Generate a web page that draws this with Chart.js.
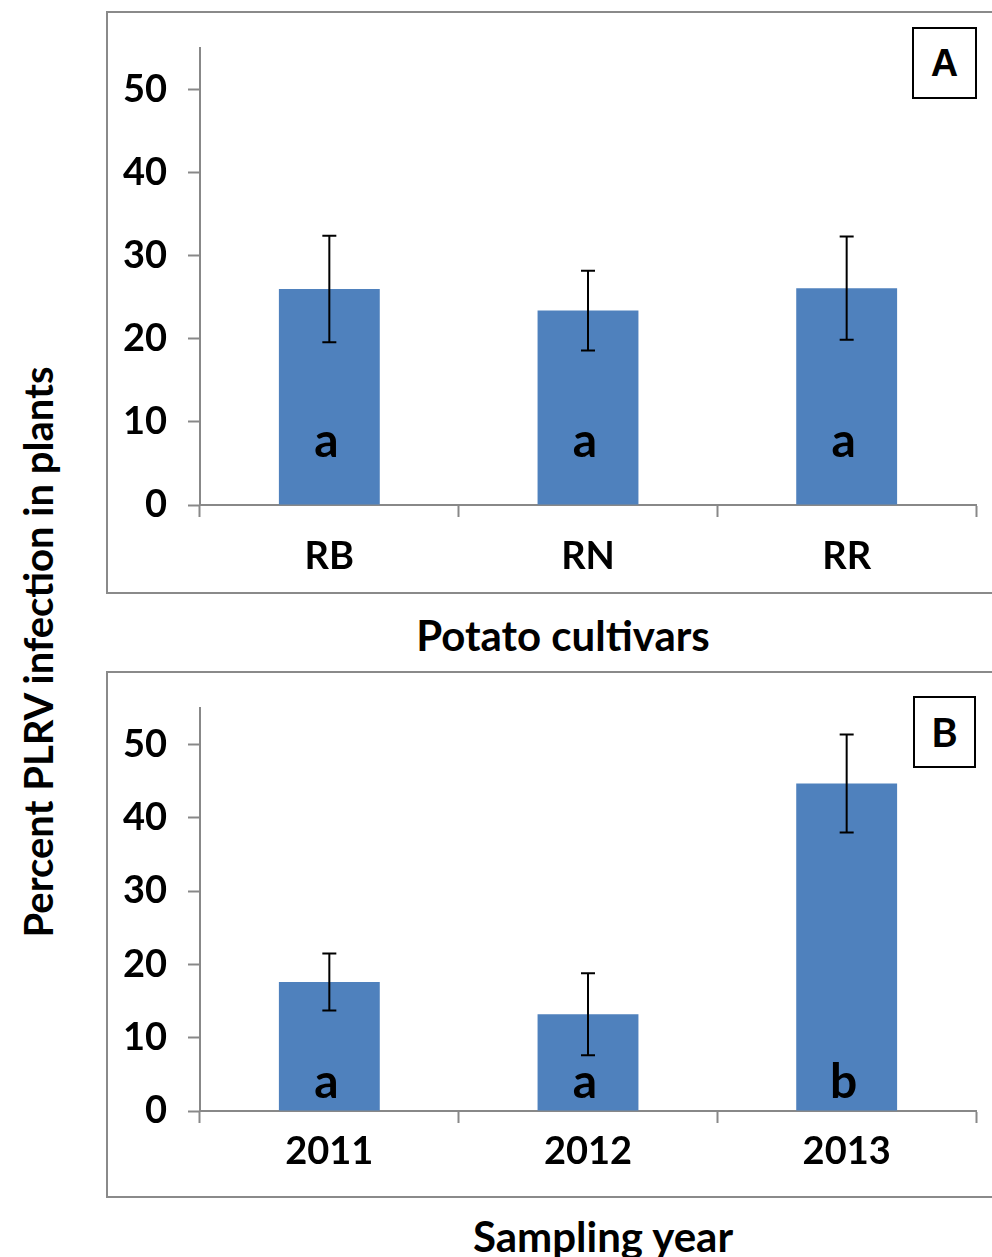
<!DOCTYPE html>
<html>
<head>
<meta charset="utf-8">
<script src="https://cdn.jsdelivr.net/npm/chart.js@4.4.1/dist/chart.umd.min.js"></script>
<style>
    body { margin: 0; background: #fff; width: 992px; height: 1257px; position: relative; overflow: hidden; font-family: Lato, sans-serif; font-weight: bold; color: #000; }
    .box { position: absolute; border: 2px solid #8a8a8a; box-sizing: border-box; }
    .wrap { position: absolute; }
    .tag { position: absolute; border: 2px solid #000; background: #fff; box-sizing: border-box; display: flex; align-items: center; justify-content: center; }
    .txt { position: absolute; white-space: nowrap; transform: translate(-50%, -50%); }
</style>
</head>
<body>
<div class="box" style="left:106px; top:11px; width:900px; height:583px;"></div>
<div class="box" style="left:106px; top:671px; width:900px; height:527px;"></div>

<div class="wrap" style="left:106px; top:11px;"><canvas id="graficoA" width="886" height="582"></canvas></div>
<div class="wrap" style="left:106px; top:671px;"><canvas id="graficoB" width="886" height="526"></canvas></div>

<div class="tag" style="left:912px; top:27px; width:65px; height:72px; font-family:'Liberation Sans', Arial, sans-serif; font-size:38px;">A</div>
<div class="tag" style="left:913px; top:696px; width:63px; height:72px; font-size:40px;">B</div>

<div class="txt" style="left:38px; top:652px; font-size:40px; transform: translate(-50%, -50%) rotate(-90deg);">Percent PLRV infection in plants</div>
<div class="txt" style="left:563px; top:635px; font-size:42px;">Potato cultivars</div>
<div class="txt" style="left:603px; top:1236px; font-size:42px;">Sampling year</div>

<script>
// datos del panel A (cultivares)
const cultivares = ['RB', 'RN', 'RR'];
const infeccionA = [26.0, 23.4, 26.1];
const errorA = [6.4, 4.8, 6.2];
const letrasA = ['a', 'a', 'a'];

// datos del panel B (años)
const anios = ['2011', '2012', '2013'];
const infeccionB = [17.6, 13.2, 44.7];
const errorB = [3.9, 5.6, 6.7];
const letrasB = ['a', 'a', 'b'];

const ejeY = [0, 10, 20, 30, 40, 50];
const maxY = 55;

const gris = '#888888';
const azul = '#4F81BD';

// barras de error y letras dentro de las barras
const barrasError = {
    id: 'barrasError',
    afterDatasetsDraw(chart, args, opts) {
        const ctx = chart.ctx;
        const y = chart.scales.y;
        const meta = chart.getDatasetMeta(0);
        const valores = chart.data.datasets[0].data;
        ctx.save();
        meta.data.forEach((bar, i) => {
            const arriba = y.getPixelForValue(valores[i] + opts.err[i]);
            const abajo = y.getPixelForValue(valores[i] - opts.err[i]);
            ctx.strokeStyle = '#000';
            ctx.lineWidth = 2;
            ctx.beginPath();
            ctx.moveTo(bar.x, arriba); ctx.lineTo(bar.x, abajo);
            ctx.moveTo(bar.x - 7, arriba); ctx.lineTo(bar.x + 7, arriba);
            ctx.moveTo(bar.x - 7, abajo); ctx.lineTo(bar.x + 7, abajo);
            ctx.stroke();
            ctx.fillStyle = '#000';
            ctx.font = 'bold 48px Lato';
            ctx.textAlign = 'center';
            ctx.textBaseline = 'alphabetic';
            ctx.fillText(opts.letras[i], bar.x - 3, y.getPixelForValue(0) - opts.subir);
        });
        ctx.restore();
    }
};

function generarGrafico(id, etiquetas, datos, errores, letras, altoX, padX, subir) {
    const ctx = document.getElementById(id).getContext('2d');
    return new Chart(ctx, {
        type: 'bar',
        data: {
            labels: etiquetas,
            datasets: [{
                data: datos,
                backgroundColor: azul,
                borderWidth: 0,
                categoryPercentage: 0.39,
                barPercentage: 1
            }]
        },
        options: {
            responsive: false,
            animation: false,
            layout: { padding: { top: 37, right: 16, left: 0, bottom: 0 } },
            plugins: {
                legend: { display: false },
                tooltip: { enabled: false },
                barrasError: { err: errores, letras: letras, subir: subir }
            },
            scales: {
                x: {
                    grid: { offset: true, drawOnChartArea: false, drawTicks: true, tickLength: 12, tickColor: gris, tickWidth: 2 },
                    border: { display: true, color: gris, width: 2 },
                    ticks: { color: '#000', padding: padX, font: { family: 'Lato', size: 38, weight: 'bold' } },
                    afterFit: (scale) => { scale.height = altoX; scale.paddingLeft = 0; scale.paddingRight = 0; }
                },
                y: {
                    min: 0,
                    max: maxY,
                    afterBuildTicks: (scale) => { scale.ticks = ejeY.map(v => ({ value: v })); },
                    grid: { drawOnChartArea: false, drawTicks: true, tickLength: 12, tickColor: gris, tickWidth: 2 },
                    border: { display: true, color: gris, width: 2 },
                    ticks: { color: '#000', padding: 21, font: { family: 'Lato', size: 38, weight: 'bold' } },
                    afterFit: (scale) => { scale.width = 94; scale.paddingTop = 0; scale.paddingBottom = 0; }
                }
            }
        },
        plugins: [barrasError]
    });
}

generarGrafico('graficoA', cultivares, infeccionA, errorA, letrasA, 88, 17, 48);
generarGrafico('graficoB', anios, infeccionB, errorB, letrasB, 86, 6, 13);
</script>
</body>
</html>
